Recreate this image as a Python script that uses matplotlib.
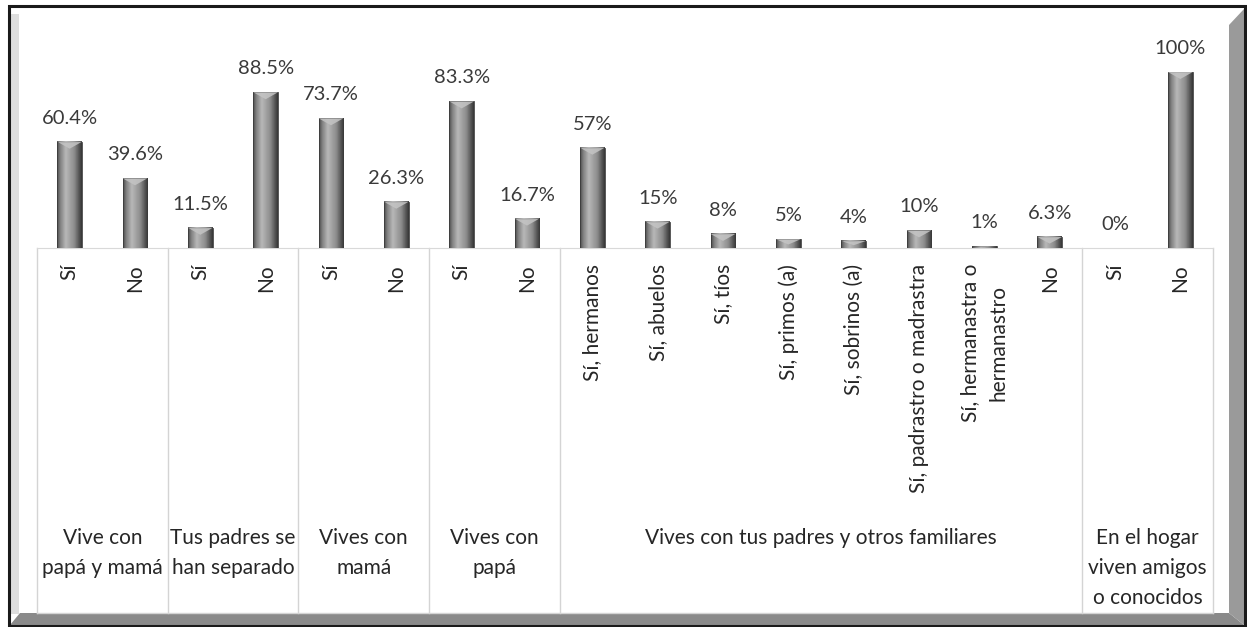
import numpy as np
import matplotlib
matplotlib.use("Agg")
import matplotlib.pyplot as plt
from matplotlib.patches import Polygon, Rectangle

plt.rcParams['font.family'] = ['Lato', 'DejaVu Sans']

# ------------------------ Datos ------------------------
categorias = ["Sí", "No", "Sí", "No", "Sí", "No", "Sí", "No",
              "Sí, hermanos", "Sí, abuelos", "Sí, tíos", "Sí, primos (a)",
              "Sí, sobrinos (a)", "Sí, padrastro o madrastra",
              "Sí, hermanastra o\nhermanastro", "No", "Sí", "No"]
valores = [60.4, 39.6, 11.5, 88.5, 73.7, 26.3, 83.3, 16.7,
           57, 15, 8, 5, 4, 10, 1, 6.3, 0, 100]
etiquetas = ["60.4%", "39.6%", "11.5%", "88.5%", "73.7%", "26.3%", "83.3%", "16.7%",
             "57%", "15%", "8%", "5%", "4%", "10%", "1%", "6.3%", "0%", "100%"]
grupos = ["Vive con\npapá y mamá", "Tus padres se\nhan separado", "Vives con\nmamá",
          "Vives con\npapá", "Vives con tus padres y otros familiares",
          "En el hogar\nviven amigos\no conocidos"]
tam_grupos = [2, 2, 2, 2, 8, 2]

W, H = 1247, 627
fig = plt.figure(figsize=(W / 100, H / 100), dpi=100)

# ------------------------ Marco ------------------------
bg = fig.add_axes([0, 0, 1, 1], zorder=0)
bg.set_xlim(0, W)
bg.set_ylim(H, 0)
bg.axis("off")
bg.add_patch(Rectangle((10, 7), 1234, 618, facecolor="white", edgecolor="none"))
bg.add_patch(Rectangle((10, 14), 9, 600, facecolor="#dedede", edgecolor="none"))
bg.add_patch(Polygon([(10, 625), (20, 613), (1229, 613), (1244, 625)],
                     closed=True, facecolor="#8a8a8a", edgecolor="none"))
bg.add_patch(Polygon([(1229, 25), (1244, 9), (1244, 625), (1229, 613)],
                     closed=True, facecolor="#9a9a9a", edgecolor="none"))
bg.add_patch(Rectangle((9, 6), 1236, 620, facecolor="none", edgecolor="#1a1a1a", lw=2.2))

# ------------------------ Barras ------------------------
x0, x1 = 37, 1213
base, top = 248, 20
ymax = (base - top) / 176 * 100
ax = fig.add_axes([x0 / W, (H - base) / H, (x1 - x0) / W, (base - top) / H], zorder=2)
ax.patch.set_alpha(0)
n = len(valores)
ax.set_xlim(-0.5, n - 0.5)
ax.set_ylim(0, ymax)
for s in ["top", "left", "right"]:
    ax.spines[s].set_visible(False)
ax.spines["bottom"].set_color("#d9d9d9")
ax.set_xticks([])
ax.set_yticks([])

ancho = 0.38
perfil = np.interp(np.linspace(0, 1, 40), [0, 0.12, 0.35, 0.7, 0.88, 1],
                   [0.30, 0.50, 0.72, 0.55, 0.35, 0.22])
grad = perfil[np.newaxis, :]
px = 176 / 100
for i, v in enumerate(valores):
    if v > 0:
        ax.imshow(grad, cmap="gray", vmin=0, vmax=1, aspect="auto",
                  extent=[i - ancho / 2, i + ancho / 2, 0, v], zorder=3,
                  interpolation="bilinear")
        ax.add_patch(Rectangle((i - ancho / 2, 0), ancho, v, facecolor="none",
                               edgecolor="#3c3c3c", lw=0.6, zorder=4))
        d = min(7 / px, v * 0.6)
        ax.add_patch(Polygon([(i - ancho / 2, v), (i + ancho / 2, v), (i, v - d)],
                             closed=True, facecolor="#c4c4c4", edgecolor="none",
                             alpha=0.85, zorder=4))
    ax.annotate(etiquetas[i], (i, v), xytext=(0, 13), textcoords="offset points",
                ha="center", va="baseline", fontsize=14.5, color="#3a3a3a")

# ------------------------ Tabla de categorías ------------------------
fondo = 613
tab = fig.add_axes([x0 / W, (H - fondo) / H, (x1 - x0) / W, (fondo - base) / H], zorder=1)
tab.set_xlim(-0.5, n - 0.5)
tab.set_ylim(fondo - base, 0)
tab.axis("off")
lc = "#d4d4d4"
limites = np.concatenate([[0], np.cumsum(tam_grupos)]) - 0.5
for b in limites:
    tab.plot([b, b], [0, fondo - base], color=lc, lw=1, clip_on=False)
tab.plot([limites[0], limites[-1]], [fondo - base, fondo - base], color=lc, lw=1, clip_on=False)

for i, c in enumerate(categorias):
    tab.text(i, 16, c, rotation=90, ha="center", va="top", multialignment="center",
             fontsize=15, color="#262626", linespacing=1.55)

for g, a, b in zip(grupos, limites[:-1], limites[1:]):
    tab.text((a + b) / 2, 280, g, ha="center", va="top", fontsize=15,
             color="#262626", linespacing=1.62)

fig.savefig("out.png", dpi=100)
